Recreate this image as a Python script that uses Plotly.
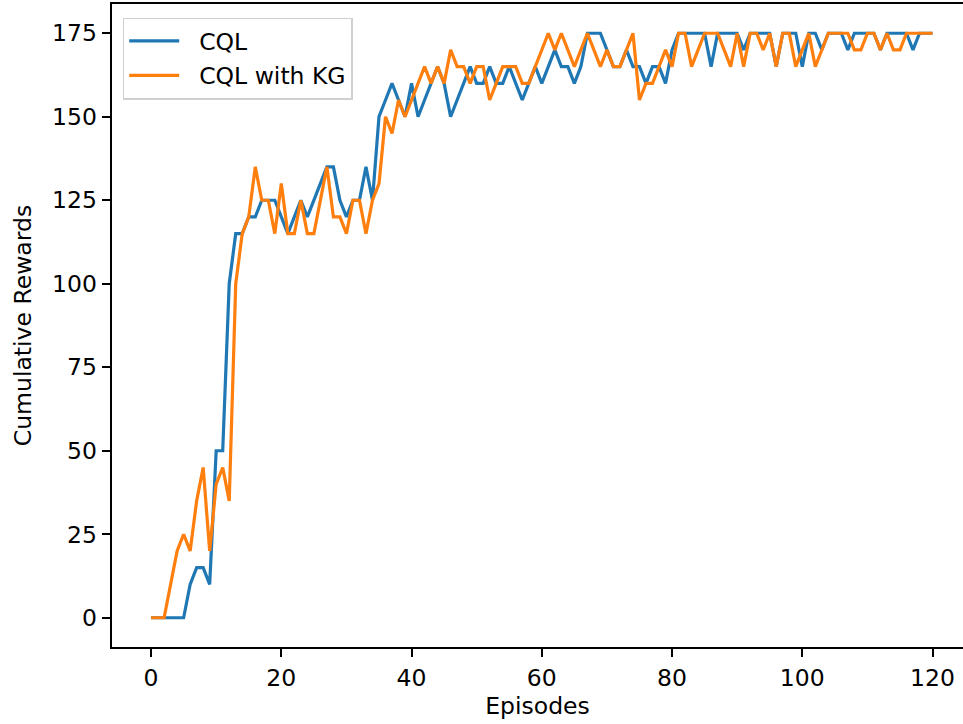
import plotly.graph_objects as go

# ---- data ----
episodes = list(range(121))

cql = [0, 0, 0, 0, 0, 0, 10, 15, 15, 10,
       50, 50, 100, 115, 115, 120, 120, 125, 125, 125,
       120, 115, 120, 125, 120, 125, 130, 135, 135, 125,
       120, 125, 125, 135, 125, 150, 155, 160, 155, 150,
       160, 150, 155, 160, 165, 160, 150, 155, 160, 165,
       160, 160, 165, 160, 160, 165, 160, 155, 160, 165,
       160, 165, 170, 165, 165, 160, 165, 175, 175, 175,
       170, 165, 165, 170, 165, 165, 160, 165, 165, 160,
       170, 175, 175, 175, 175, 175, 165, 175, 175, 175,
       175, 170, 175, 175, 175, 175, 165, 175, 175, 175,
       165, 175, 175, 170, 175, 175, 175, 170, 175, 175,
       175, 175, 170, 175, 175, 175, 175, 170, 175, 175,
       175]

cql_kg = [0, 0, 0, 10, 20, 25, 20, 35, 45, 20,
          40, 45, 35, 100, 115, 120, 135, 125, 125, 115,
          130, 115, 115, 125, 115, 115, 125, 135, 120, 120,
          115, 125, 125, 115, 125, 130, 150, 145, 155, 150,
          155, 160, 165, 160, 165, 160, 170, 165, 165, 160,
          165, 165, 155, 160, 165, 165, 165, 160, 160, 165,
          170, 175, 170, 175, 170, 165, 170, 175, 170, 165,
          170, 165, 165, 170, 175, 155, 160, 160, 165, 170,
          165, 175, 175, 165, 170, 175, 175, 175, 170, 165,
          175, 165, 175, 175, 170, 175, 165, 175, 175, 165,
          170, 175, 165, 170, 175, 175, 175, 175, 170, 170,
          175, 175, 170, 175, 170, 170, 175, 175, 175, 175,
          175]

x_ticks = [0, 20, 40, 60, 80, 100, 120]
y_ticks = [0, 25, 50, 75, 100, 125, 150, 175]
series_names = ["CQL", "CQL with KG"]
series_colors = ["#1f77b4", "#ff7f0e"]

FS = 23.5
font = dict(family="DejaVu Sans", size=FS, color="#000000")
pad = "\u00a0\u00a0"

fig = go.Figure()
for i, (vals, name, col) in enumerate(zip([cql, cql_kg], series_names, series_colors)):
    fig.add_trace(go.Scatter(
        x=episodes, y=vals, mode="lines", name=pad + name,
        line=dict(color=col, width=3.2),
        legendgroup="g%d" % i,
    ))

fig.update_layout(
    width=963, height=724,
    margin=dict(l=112, r=0, t=4, b=77),
    paper_bgcolor="white", plot_bgcolor="white",
    font=font,
    showlegend=True,
    legend=dict(
        x=0.0126, y=0.979, xanchor="left", yanchor="top",
        bordercolor="#d0d0d0", borderwidth=1.5,
        bgcolor="rgba(255,255,255,0.8)",
        tracegroupgap=1, font=font, itemwidth=50,
    ),
)
axis_common = dict(
    showline=True, linecolor="black", linewidth=1.9,
    ticks="outside", ticklen=8.4, tickwidth=1.9, tickcolor="black",
    showgrid=False, zeroline=False,
    tickfont=font,
)
fig.update_xaxes(range=[-6, 124.68], tickvals=x_ticks, mirror=True,
                 title=dict(text="Episodes", font=font, standoff=6), **axis_common)
fig.update_yaxes(range=[-8.75, 183.75], tickvals=y_ticks, mirror=False,
                 title=dict(text="Cumulative Rewards", font=font, standoff=14), **axis_common)

fig.write_html("out.html", config={"displayModeBar": False},
               post_script="document.body.style.margin='0';")
